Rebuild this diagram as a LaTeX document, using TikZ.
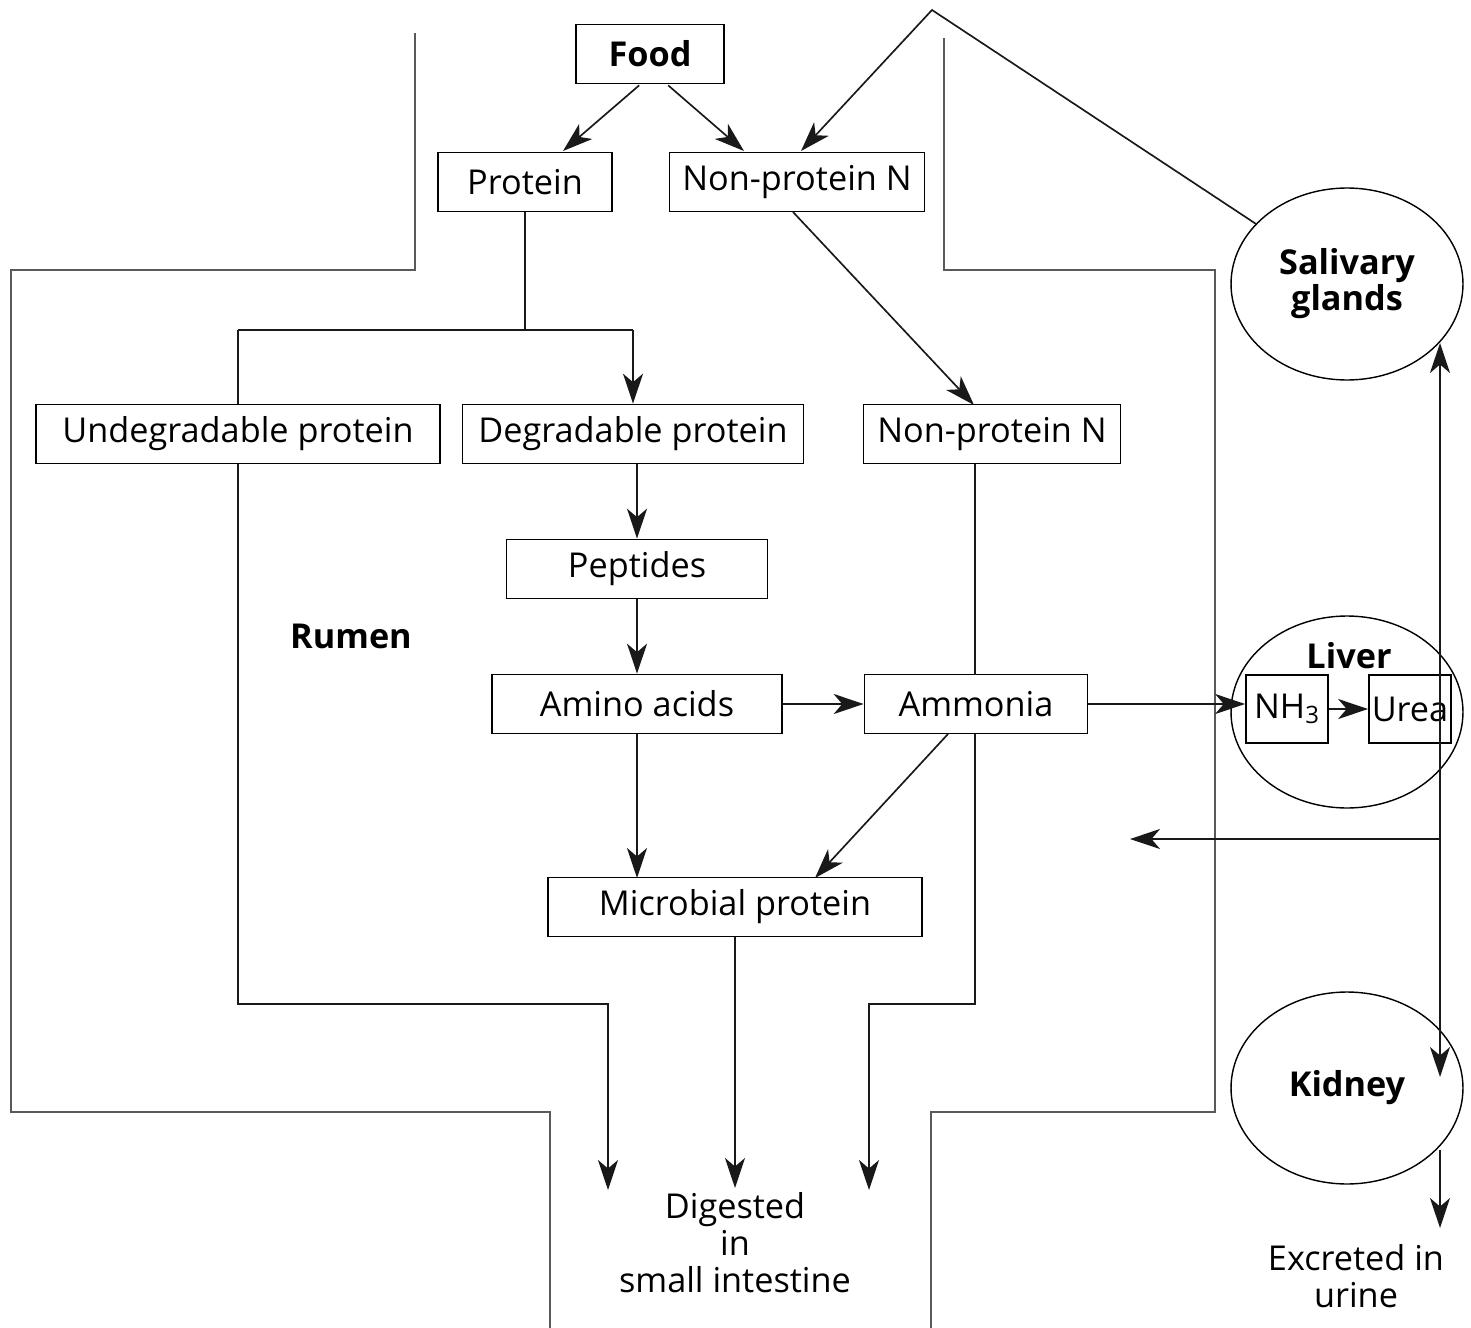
\documentclass[tikz,border=0pt]{standalone}
\usepackage{fontspec}
\setmainfont{Open Sans}
\usetikzlibrary{arrows.meta,shapes.geometric}
\begin{document}
\begin{tikzpicture}[x=0.02cm,y=-0.02cm,
  font=\fontsize{19.5}{22}\selectfont,
  line width=0.95pt,
  >={Stealth[length=0.6cm,width=0.4cm,inset=0.17cm]},
  box/.style={draw, minimum height=1.18cm, inner sep=0pt},
  organ/.style={draw, ellipse, minimum width=4.64cm, minimum height=3.84cm, inner sep=0pt, line width=0.8pt},
  wall/.style={draw=black!65, line width=0.95pt},
  flow/.style={draw=black!90}]
\useasboundingbox (0,0) rectangle (1471,1328);
% boxes
\node[box, minimum width=2.96cm, font=\fontsize{19.5}{22}\selectfont\bfseries] (food) at (650,54) {Food};
\node[box, minimum width=3.48cm] (prot) at (525,182) {Protein};
\node[box, minimum width=5.10cm] (npn1) at (797,182) {Non-protein N};
\node[box, minimum width=8.08cm] (undeg) at (238,434) {Undegradable protein};
\node[box, minimum width=6.82cm] (deg) at (633,434) {Degradable protein};
\node[box, minimum width=5.14cm] (npn2) at (992,434) {Non-protein N};
\node[box, minimum width=5.22cm] (pep) at (637,569) {Peptides};
\node[box, minimum width=5.80cm] (amino) at (637,704) {Amino acids};
\node[box, minimum width=4.46cm] (amm) at (976,704) {Ammonia};
\node[box, minimum width=7.48cm] (micro) at (735,907) {Microbial protein};
% organs
\node[organ, align=center, font=\fontsize{19.5}{19.3}\selectfont\bfseries] (sal) at (1347,284) {Salivary\\glands};
\node[organ] (liver) at (1347,712) {};
\node[organ, font=\fontsize{19.5}{22}\selectfont\bfseries] (kid) at (1347,1088) {Kidney};
\node[font=\fontsize{19.5}{22}\selectfont\bfseries] (livlab) at (1349,656) {Liver};
\node[box, minimum width=1.64cm, minimum height=1.36cm] (nh3) at (1287,709) {NH\textsubscript{3}};
\node[box, minimum width=1.64cm, minimum height=1.36cm] (urea) at (1410,709) {Urea};
% labels
\node[font=\fontsize{19.5}{22}\selectfont\bfseries] (rumen) at (351,636) {Rumen};
\node[align=center, font=\fontsize{19.5}{21}\selectfont] (dig) at (735,1243) {Digested\\in\\small intestine};
\node[align=center, font=\fontsize{19.5}{21}\selectfont] (exc) at (1356,1276) {Excreted in\\urine};
% coordinates
\coordinate (apex) at (932,10);
\coordinate (split) at (525,330);
\coordinate (sdl) at (238,330);
\coordinate (sdr) at (633,330);
\coordinate (vtop) at (1440,343);
\coordinate (vbot) at (1440,1077);
\coordinate (vmid) at (1440,839);
\coordinate (recyc) at (1130,839);
\coordinate (kout) at (1440,1150);
\coordinate (urin) at (1440,1228);
\coordinate (endL) at (608,1190);
\coordinate (endM) at (735,1188);
\coordinate (endR) at (869,1190);
% rumen walls
\draw[wall] (415,33) -- (415,270) -- (11,270) -- (11,1112) -- (550,1112) -- (550,1328);
\draw[wall] (944,38) -- (944,270) -- (1215,270) -- (1215,1112) -- (931,1112) -- (931,1328);
% connectors
\draw[flow,->] (food.south west)++(64,1) -- (563,151);
\draw[flow,->] (food.south west)++(93,1) -- (744,151);
\draw[flow,->] (sal) -- (apex) -- (801,151);
\draw[flow] (prot.south) -- (split);
\draw[flow] (sdl) -- (sdr);
\draw[flow] (sdl) -- (undeg.north);
\draw[flow,->] (sdr) -- (deg.north);
\draw[flow,->] (793,212) -- (974,405);
\draw[flow,->] (637,464) -- (pep.north);
\draw[flow,->] (pep.south) -- (amino.north);
\draw[flow,->] (amino.east) -- (amm.west);
\draw[flow] (975,464) -- (975,675);
\draw[flow,->] (amino.south) -- (637,878);
\draw[flow,->] (948,734) -- (815,878);
\draw[flow,->] (amm.east) -- (nh3.west |- amm.east);
\draw[flow,->] (nh3.east) -- (urea.west);
\draw[flow,<->] (vtop) -- (vbot);
\draw[flow,->] (vmid) -- (recyc);
\draw[flow,->] (kout) -- (urin);
\draw[flow,->] (undeg.south) -- (238,1004) -- (608,1004) -- (endL);
\draw[flow,->] (micro.south) -- (endM);
\draw[flow,->] (975,734) -- (975,1004) -- (869,1004) -- (endR);
\end{tikzpicture}
\end{document}
